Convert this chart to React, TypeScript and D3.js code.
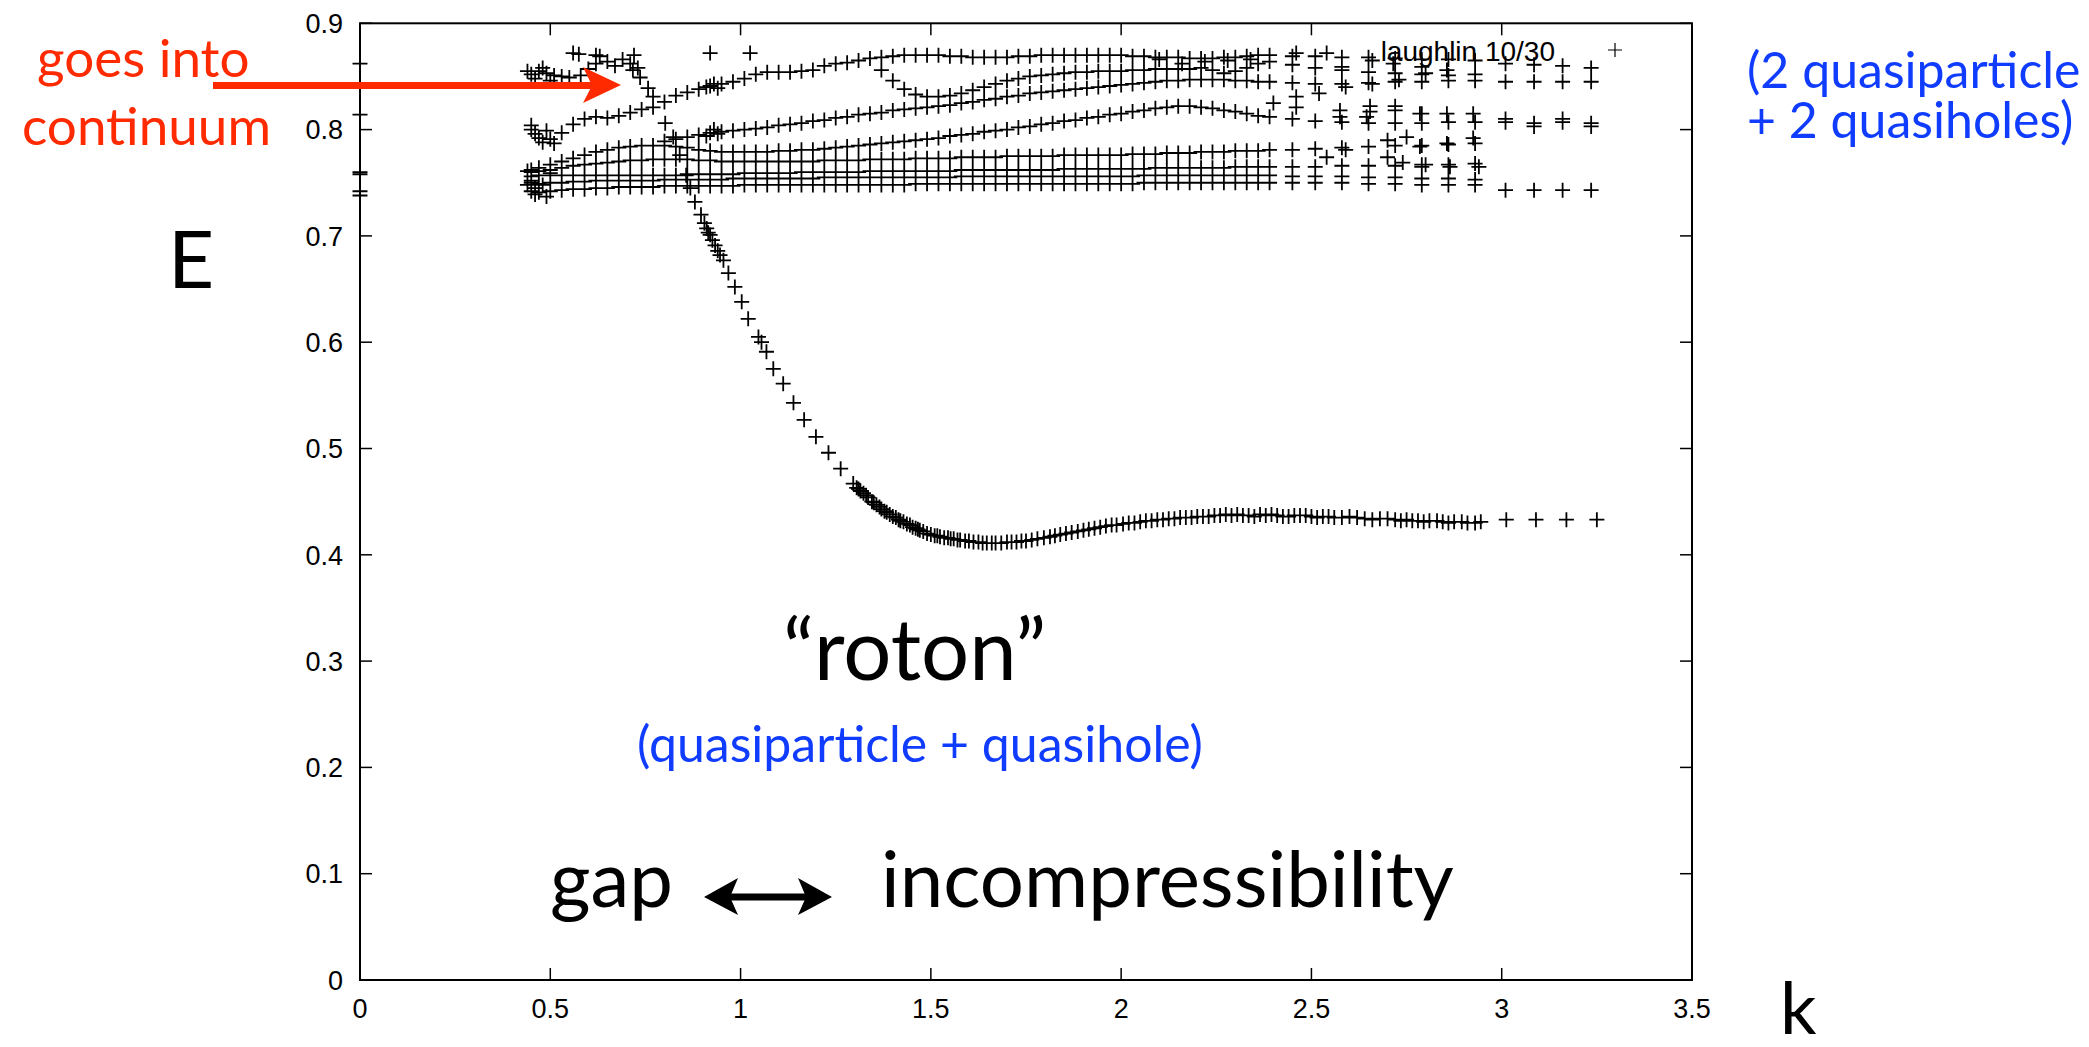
import React, { useEffect } from 'react';
import * as d3 from 'd3';

const W = 2089;
const H = 1047;

// axis ticks
const kTicks = [0, 0.5, 1, 1.5, 2, 2.5, 3, 3.5];
const eTicks = [0, 0.1, 0.2, 0.3, 0.4, 0.5, 0.6, 0.7, 0.8, 0.9];

// energies of the k = 0 states (sit on the left axis)
const kZeroE = [0.862, 0.814, 0.760, 0.758, 0.742, 0.738];

// k columns shared by the continuum bands
const kCols = [
  0.45, 0.47, 0.50, 0.53, 0.56, 0.59, 0.62, 0.65, 0.68, 0.71,
  0.74, 0.77, 0.80, 0.83, 0.86, 0.89, 0.92, 0.95, 0.98, 1.01,
  1.04, 1.07, 1.10, 1.13, 1.16, 1.19, 1.22, 1.25, 1.28, 1.31,
  1.34, 1.37, 1.40, 1.43, 1.46, 1.49, 1.52, 1.55, 1.58, 1.61,
  1.64, 1.67, 1.70, 1.73, 1.76, 1.79, 1.82, 1.85, 1.88, 1.91,
  1.94, 1.97, 2.00, 2.03, 2.06, 2.09, 2.12, 2.15, 2.18, 2.21,
  2.24, 2.27, 2.30, 2.33, 2.36, 2.39, 2.45, 2.51, 2.58, 2.65,
  2.72, 2.79, 2.86, 2.93, 3.01, 3.085, 3.16, 3.235,
];

// continuum bands, one energy per k column (null = no point)
const bandA = [
  0.742, 0.741, 0.742, 0.743, 0.744, 0.744, 0.745, 0.745, 0.746, 0.746,
  0.746, 0.746, 0.747, 0.747, 0.747, 0.747, 0.747, 0.747, 0.747, 0.748,
  0.748, 0.748, 0.748, 0.748, 0.748, 0.748, 0.748, 0.748, 0.748, 0.748,
  0.748, 0.748, 0.748, 0.748, 0.749, 0.749, 0.749, 0.749, 0.749, 0.749,
  0.749, 0.749, 0.749, 0.749, 0.749, 0.749, 0.749, 0.749, 0.749, 0.749,
  0.749, 0.749, 0.749, 0.749, 0.750, 0.750, 0.750, 0.750, 0.750, 0.750,
  0.750, 0.750, 0.750, 0.750, 0.750, 0.750, 0.750, 0.750, 0.750, 0.749,
  0.749, 0.748, 0.748, 0.748, 0.743, 0.743, 0.743, 0.743,
];
const bandB = [
  0.750, 0.749, 0.750, 0.750, 0.751, 0.751, 0.752, 0.752, 0.752, 0.752,
  0.752, 0.752, 0.753, 0.753, 0.753, 0.753, 0.753, 0.753, 0.754, 0.754,
  0.754, 0.754, 0.754, 0.754, 0.754, 0.754, 0.755, 0.755, 0.755, 0.755,
  0.755, 0.755, 0.755, 0.755, 0.755, 0.755, 0.755, 0.755, 0.756, 0.756,
  0.756, 0.756, 0.756, 0.756, 0.756, 0.756, 0.756, 0.756, 0.756, 0.756,
  0.756, 0.756, 0.756, 0.756, 0.757, 0.757, 0.757, 0.757, 0.757, 0.757,
  0.757, 0.757, 0.757, 0.757, 0.757, 0.757, 0.756, 0.756, 0.756, 0.755,
  0.755, 0.754, 0.754, 0.753, null, null, null, null,
];
const bandC = [
  0.756, 0.757, 0.757, 0.757, 0.757, 0.757, 0.757, 0.757, 0.757, 0.757,
  0.757, 0.757, 0.757, 0.757, 0.758, 0.758, 0.758, 0.758, 0.758, 0.759,
  0.759, 0.759, 0.759, 0.759, 0.760, 0.760, 0.760, 0.760, 0.760, 0.760,
  0.761, 0.761, 0.761, 0.761, 0.761, 0.761, 0.761, 0.761, 0.762, 0.762,
  0.762, 0.762, 0.762, 0.762, 0.762, 0.762, 0.762, 0.763, 0.763, 0.763,
  0.763, 0.763, 0.763, 0.763, 0.763, 0.764, 0.764, 0.764, 0.764, 0.764,
  0.764, 0.764, 0.765, 0.765, 0.765, 0.765, 0.765, 0.765, 0.766, 0.766,
  0.766, 0.767, 0.767, 0.768, null, null, null, null,
];
const bandD = [
  0.760, 0.761, 0.762, 0.764, 0.766, 0.767, 0.768, 0.769, 0.770, 0.771,
  0.771, 0.772, 0.772, 0.772, 0.772, 0.771, 0.771, 0.770, 0.770, 0.770,
  0.770, 0.770, 0.770, 0.770, 0.770, 0.770, 0.771, 0.771, 0.771, 0.771,
  0.772, 0.772, 0.772, 0.772, 0.773, 0.773, 0.773, 0.773, 0.774, 0.774,
  0.774, 0.774, 0.775, 0.775, 0.775, 0.775, 0.775, 0.776, 0.776, 0.776,
  0.776, 0.776, 0.776, 0.777, 0.777, 0.777, 0.778, 0.778, 0.778, 0.779,
  0.779, 0.779, 0.780, 0.780, 0.780, 0.781, 0.781, 0.782, 0.783, 0.784,
  0.785, 0.785, 0.786, 0.787, null, null, null, null,
];
const bandE = [
  0.762, 0.764, 0.767, 0.770, 0.773, 0.776, 0.779, 0.781, 0.783, 0.784,
  0.785, 0.785, 0.785, 0.784, 0.783, 0.781, 0.780, 0.779, 0.779, 0.779,
  0.779, 0.779, 0.780, 0.780, 0.781, 0.781, 0.782, 0.783, 0.784, 0.785,
  0.786, 0.787, 0.788, 0.789, 0.790, 0.791, 0.792, 0.794, 0.795, 0.796,
  0.798, 0.799, 0.800, 0.802, 0.803, 0.805, 0.806, 0.808, 0.809, 0.811,
  0.812, 0.814, 0.815, 0.817, 0.818, 0.820, 0.821, 0.822, 0.822, 0.821,
  0.820, 0.818, 0.817, 0.815, 0.813, 0.812, 0.810, 0.808, 0.807, 0.806,
  0.806, 0.806, 0.807, 0.807, 0.807, 0.806, 0.807, 0.806,
];
const bandF = [
  null, null, null, null, null, null, null, null, null, null,
  null, null, 0.789, 0.791, 0.793, 0.795, 0.797, 0.798, 0.799, 0.800,
  0.801, 0.802, 0.804, 0.805, 0.806, 0.808, 0.809, 0.811, 0.812, 0.814,
  0.815, 0.816, 0.818, 0.819, 0.820, 0.821, 0.822, 0.823, 0.825, 0.826,
  0.828, 0.829, 0.831, 0.832, 0.834, 0.835, 0.836, 0.837, 0.838, 0.839,
  0.840, 0.841, 0.842, 0.843, 0.844, 0.845, 0.846, 0.846, 0.847, 0.847,
  0.847, 0.847, 0.846, 0.846, 0.845, 0.845, 0.844, 0.843, 0.843, 0.844,
  0.845, 0.845, 0.846, 0.846, 0.845, 0.845, 0.845, 0.845,
];
const bandG = [
  0.800, 0.792, 0.791, 0.797, 0.805, 0.810, 0.812, 0.811, 0.813, 0.816,
  0.819, 0.821, 0.826, 0.832, 0.835, 0.838, 0.841, 0.843, 0.845, 0.848,
  0.852, 0.854, 0.854, 0.854, 0.855, 0.856, 0.860, 0.862, 0.863, 0.865,
  0.867, 0.868, 0.869, 0.870, 0.870, 0.870, 0.870, 0.869, 0.869, 0.868,
  0.868, 0.868, 0.868, 0.869, 0.869, 0.870, 0.870, 0.870, 0.870, 0.870,
  0.870, 0.870, 0.870, 0.869, 0.869, 0.868, 0.868, 0.868, 0.867, 0.867,
  0.867, 0.868, 0.868, 0.869, 0.870, 0.870, 0.869, 0.869, 0.868, 0.868,
  0.867, 0.866, 0.866, 0.865, 0.862, 0.861, 0.860, 0.858,
];
const bandH = [
  null, null, null, null, null, null, null, null, null, null,
  null, null, null, null, null, null, null, null, null, null,
  null, null, null, null, null, null, null, null, null, null,
  null, 0.856, 0.846, 0.838, 0.833, 0.831, 0.831, 0.832, 0.834, 0.837,
  0.840, 0.843, 0.846, 0.848, 0.850, 0.851, 0.852, 0.853, 0.854, 0.854,
  0.855, 0.855, 0.855, 0.856, 0.856, 0.857, 0.857, 0.857, 0.857, 0.858,
  0.856, 0.853, 0.855, 0.858, 0.862, 0.864, 0.861, 0.858, 0.856, 0.854,
  0.853, 0.852, 0.851, 0.852, null, null, null, null,
];

// top-left branch and the knots at the low-k edge
const leftCluster: [number, number][] = [
  [0.45, 0.852], [0.47, 0.855], [0.49, 0.853], [0.51, 0.851], [0.53, 0.850],
  [0.55, 0.849], [0.58, 0.851], [0.60, 0.857], [0.62, 0.862], [0.65, 0.864],
  [0.67, 0.860], [0.69, 0.866], [0.71, 0.862], [0.73, 0.858],
  [0.44, 0.855], [0.46, 0.848], [0.48, 0.858], [0.50, 0.846],
  [0.45, 0.804], [0.46, 0.796], [0.48, 0.788], [0.49, 0.799], [0.51, 0.787],
  [0.44, 0.761], [0.45, 0.752], [0.46, 0.745], [0.47, 0.757], [0.48, 0.748],
  [0.44, 0.748], [0.50, 0.759], [0.46, 0.739], [0.49, 0.737],
];

// magnetoroton branch
const roton: [number, number][] = [
  [0.717, 0.856], [0.736, 0.849], [0.757, 0.839], [0.770, 0.831], [0.802, 0.806],
  [0.823, 0.793], [0.840, 0.776], [0.857, 0.757], [0.868, 0.745], [0.880, 0.732],
  [0.896, 0.720], [0.905, 0.712], [0.911, 0.707], [0.915, 0.703], [0.920, 0.701],
  [0.926, 0.696], [0.933, 0.691], [0.940, 0.686], [0.946, 0.682], [0.955, 0.677],
  [0.968, 0.665], [0.985, 0.652], [1.003, 0.638], [1.020, 0.622], [1.047, 0.605],
  [1.055, 0.600], [1.068, 0.591], [1.086, 0.575], [1.112, 0.561], [1.139, 0.543],
  [1.167, 0.527], [1.198, 0.511], [1.231, 0.496], [1.263, 0.481], [1.296, 0.467],
  [1.305, 0.463], [1.315, 0.460], [1.323, 0.458], [1.335, 0.454], [1.345, 0.450],
  [1.357, 0.447], [1.370, 0.443], [1.384, 0.440], [1.400, 0.436], [1.415, 0.433],
  [1.428, 0.431], [1.445, 0.428], [1.460, 0.425], [1.471, 0.423], [1.490, 0.420],
  [1.510, 0.418], [1.524, 0.417], [1.545, 0.416], [1.560, 0.415], [1.577, 0.414],
  [1.600, 0.413], [1.625, 0.412], [1.647, 0.411], [1.670, 0.411], [1.700, 0.412],
  [1.725, 0.412], [1.750, 0.413], [1.780, 0.415], [1.813, 0.417], [1.840, 0.419],
  [1.870, 0.421], [1.901, 0.423], [1.930, 0.425], [1.960, 0.427], [1.988, 0.428],
  [2.020, 0.430], [2.050, 0.431], [2.080, 0.432], [2.110, 0.433], [2.140, 0.434],
  [2.170, 0.435], [2.200, 0.436], [2.230, 0.436], [2.260, 0.437], [2.290, 0.437],
  [2.320, 0.437], [2.350, 0.436], [2.380, 0.437], [2.410, 0.437], [2.440, 0.436],
  [2.470, 0.437], [2.500, 0.436], [2.530, 0.436], [2.560, 0.435], [2.600, 0.436],
  [2.640, 0.434], [2.680, 0.434], [2.720, 0.433], [2.750, 0.433], [2.780, 0.432],
  [2.810, 0.432], [2.845, 0.431], [2.875, 0.431], [2.910, 0.430], [2.945, 0.431],
  [3.012, 0.433], [3.090, 0.433], [3.170, 0.433], [3.250, 0.433],
];

// second, interleaved set of roton states (other system sizes)
const rotonDense: [number, number][] = [
  [1.310, 0.462], [1.330, 0.456], [1.350, 0.449], [1.365, 0.445], [1.378, 0.441],
  [1.392, 0.438], [1.408, 0.435], [1.420, 0.432], [1.437, 0.429], [1.452, 0.426],
  [1.466, 0.424], [1.480, 0.422], [1.500, 0.419], [1.517, 0.418], [1.535, 0.416],
  [1.552, 0.415], [1.570, 0.414], [1.590, 0.413], [1.612, 0.412], [1.636, 0.411],
  [1.660, 0.411], [1.685, 0.411], [1.712, 0.412], [1.738, 0.413], [1.765, 0.414],
  [1.797, 0.416], [1.826, 0.418], [1.855, 0.420], [1.886, 0.422], [1.915, 0.424],
  [1.945, 0.426], [1.975, 0.428], [2.005, 0.429], [2.035, 0.430], [2.065, 0.432],
  [2.095, 0.433], [2.125, 0.434], [2.155, 0.435], [2.185, 0.435], [2.215, 0.436],
  [2.245, 0.437], [2.275, 0.438], [2.305, 0.438], [2.335, 0.437], [2.365, 0.438],
  [2.395, 0.438], [2.425, 0.436], [2.455, 0.437], [2.485, 0.437], [2.515, 0.435],
  [2.545, 0.436], [2.580, 0.435], [2.620, 0.435], [2.660, 0.433], [2.700, 0.434],
  [2.735, 0.432], [2.765, 0.432], [2.795, 0.431], [2.830, 0.432], [2.860, 0.430],
  [2.895, 0.431], [2.930, 0.430],
];

// scattered states in the continuum
const scatter: [number, number][] = [
  [0.56, 0.872], [0.575, 0.871], [0.62, 0.870], [0.63, 0.869], [0.72, 0.870],
  [0.92, 0.872], [1.025, 0.872], [0.91, 0.794], [0.93, 0.800], [0.94, 0.796],
  [0.91, 0.840], [0.93, 0.843], [0.94, 0.839],
  [2.575, 0.812], [2.654, 0.817], [2.72, 0.818], [2.79, 0.815], [2.70, 0.790],
  [2.75, 0.793], [2.79, 0.785], [2.70, 0.774], [2.74, 0.769], [2.79, 0.765],
  [2.59, 0.781], [2.54, 0.774], [2.785, 0.815], [2.856, 0.815], [2.925, 0.815],
  [2.925, 0.792], [2.856, 0.787], [2.785, 0.784], [2.94, 0.765], [2.864, 0.765],
  [2.80, 0.767], [2.645, 0.812], [2.72, 0.822], [2.654, 0.822], [2.575, 0.818],
  [2.73, 0.847], [2.80, 0.853], [2.856, 0.856], [2.58, 0.859], [2.10, 0.866],
  [2.16, 0.862], [2.22, 0.864], [2.28, 0.865], [2.34, 0.866], [2.46, 0.872],
  [2.54, 0.872], [2.58, 0.868], [2.66, 0.865], [2.715, 0.862], [2.79, 0.859],
  [2.45, 0.844], [2.46, 0.831], [2.46, 0.821], [2.40, 0.825], [2.52, 0.834],
  [2.59, 0.840], [2.66, 0.843], [3.01, 0.810], [3.085, 0.803], [3.16, 0.810],
  [3.235, 0.803],
];

const bands = [bandA, bandB, bandC, bandD, bandE, bandF, bandG, bandH];

const crossPath = (pts: [number, number][], x, y, s: number) => {
  const p = d3.path();
  pts.forEach(([k, e]) => {
    const cx = x(k);
    const cy = y(e);
    p.moveTo(cx - s, cy);
    p.lineTo(cx + s, cy);
    p.moveTo(cx, cy - s);
    p.lineTo(cx, cy + s);
  });
  return p.toString();
};

export default function App() {
  useEffect(() => {
    document.body.style.margin = '0';
  }, []);

  const x = d3.scaleLinear().domain([0, 3.5]).range([360, 1692]);
  const y = d3.scaleLinear().domain([0, 0.9]).range([980, 23.3]);
  const fmt = d3.format('~g');

  const pts: [number, number][] = [];
  kZeroE.forEach((e) => pts.push([0, e]));
  bands.forEach((band) =>
    band.forEach((e, i) => {
      if (e != null) pts.push([kCols[i], e]);
    })
  );
  leftCluster.forEach((p) => pts.push(p));
  roton.forEach((p) => pts.push(p));
  rotonDense.forEach((p) => pts.push(p));
  scatter.forEach((p) => pts.push(p));

  const [x0, x1] = x.range();
  const [y0, y1] = y.range();
  const tickFont = "'Liberation Sans', Arial, Helvetica, sans-serif";
  const noteFont = "Lato, 'Open Sans', sans-serif";
  const red = '#ff2a00';
  const blue = '#0f3cff';

  return (
    <svg width={W} height={H} style={{ display: 'block', background: '#fff' }}>
      {/* frame */}
      <rect x={x0} y={y1} width={x1 - x0} height={y0 - y1} fill="none" stroke="#000" strokeWidth={2} />

      {/* ticks, mirrored on all sides like gnuplot */}
      <g stroke="#000" strokeWidth={1.5}>
        {kTicks.map((t) => (
          <g key={'kx' + t}>
            <line x1={x(t)} x2={x(t)} y1={y0} y2={y0 - 12} />
            <line x1={x(t)} x2={x(t)} y1={y1} y2={y1 + 12} />
          </g>
        ))}
        {eTicks.map((t) => (
          <g key={'ey' + t}>
            <line x1={x0} x2={x0 + 12} y1={y(t)} y2={y(t)} />
            <line x1={x1} x2={x1 - 12} y1={y(t)} y2={y(t)} />
          </g>
        ))}
      </g>
      <g fontFamily={tickFont} fontSize={27} fill="#000">
        {kTicks.map((t) => (
          <text key={'kl' + t} x={x(t)} y={1018} textAnchor="middle">
            {fmt(t)}
          </text>
        ))}
        {eTicks.map((t) => (
          <text key={'el' + t} x={343} y={y(t)} dy="0.36em" textAnchor="end">
            {fmt(t)}
          </text>
        ))}
      </g>

      {/* data */}
      <path d={crossPath(pts, x, y, 7.5)} stroke="#000" strokeWidth={1.8} fill="none" />

      {/* key */}
      <text x={1555} y={61} textAnchor="end" fontFamily={tickFont} fontSize={28}>
        laughlin 10/30
      </text>
      <path d="M1608,50h14M1615,43v14" stroke="#000" strokeWidth={1.2} />

      {/* annotations */}
      <g fontFamily={noteFont}>
        <text x={37} y={77} fontSize={53} fill={red}>goes into</text>
        <text x={22} y={145} fontSize={53} fill={red}>continuum</text>
        <text x={1747} y={88} fontSize={50} fill={blue}>(2 quasiparticle</text>
        <text x={1747} y={138} fontSize={50} fill={blue}>+ 2 quasiholes)</text>
        <text x={168} y={288} fontSize={80} fill="#000">E</text>
        <text x={1780} y={1034} fontSize={72} fill="#000">k</text>
        <text x={783} y={680} fontSize={85} fill="#000">“roton”</text>
        <text x={637} y={762} fontSize={50} fill={blue}>(quasiparticle + quasihole)</text>
        <text x={550} y={907} fontSize={78} fill="#000">gap</text>
        <text x={881} y={907} fontSize={78} fill="#000">incompressibility</text>
      </g>

      {/* red arrow */}
      <line x1={213} x2={596} y1={85.5} y2={85.5} stroke={red} strokeWidth={7} />
      <polygon points="621,85 583,67 592,85.5 583,103" fill={red} />

      {/* double arrow */}
      <line x1={724} x2={812} y1={897} y2={897} stroke="#000" strokeWidth={7} />
      <polygon points="704,897 738,878 730,897 738,915" fill="#000" />
      <polygon points="832,897 798,878 806,897 798,915" fill="#000" />
    </svg>
  );
}
